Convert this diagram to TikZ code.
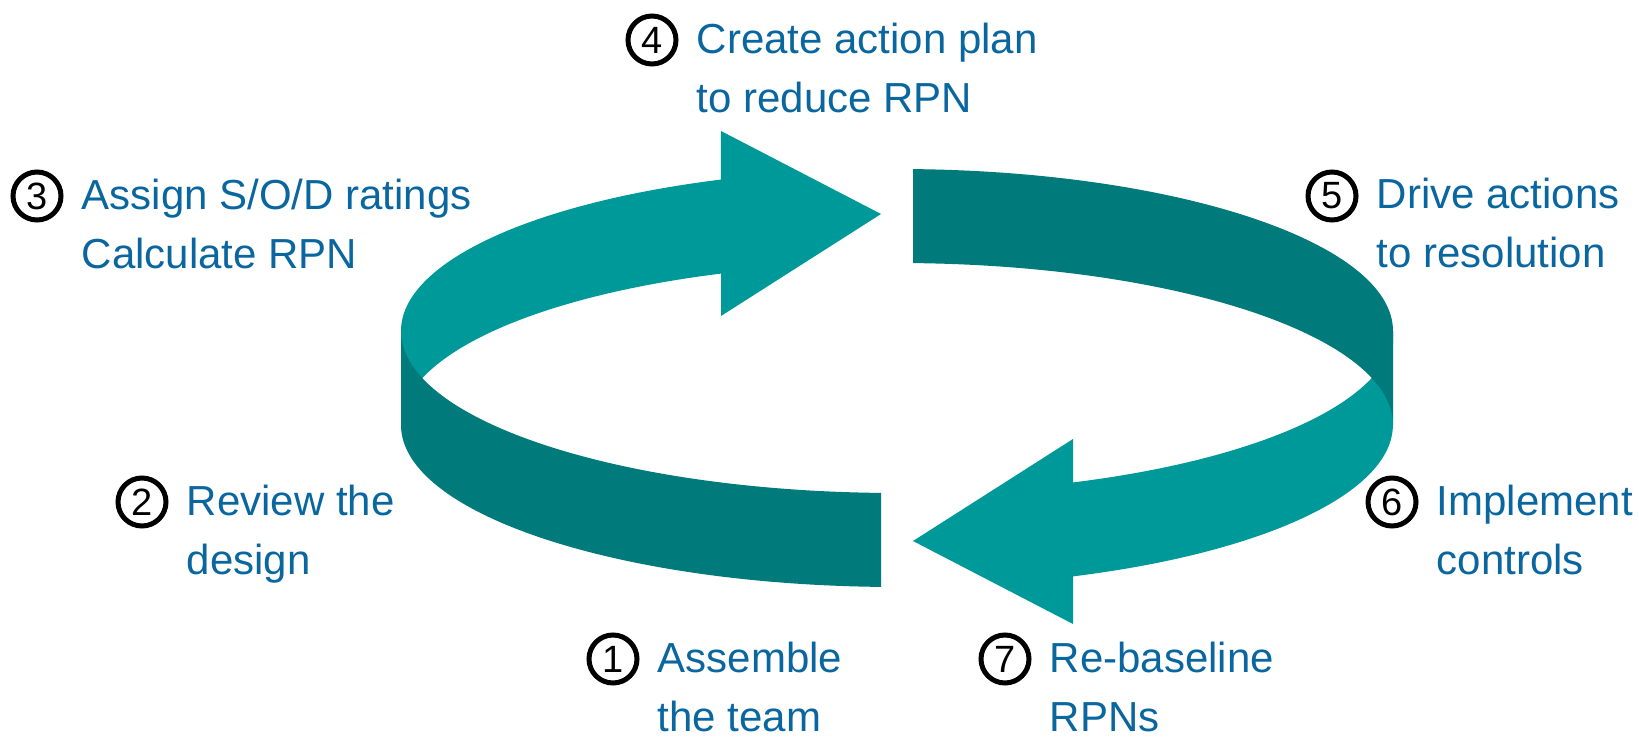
\documentclass[tikz,border=0pt]{standalone}
\usepackage{fontspec}
\setmainfont{Liberation Sans}
\usetikzlibrary{positioning}

\definecolor{ringlight}{RGB}{0,153,153}
\definecolor{ringdark}{RGB}{0,122,122}
\definecolor{steptext}{RGB}{10,102,158}

\begin{document}
\begin{tikzpicture}[x=0.5pt,y=0.5pt,
   node distance=9pt,
   ring/.style={x radius=496,y radius=162},
   num/.style={draw,circle,line width=2.5pt,minimum size=24pt,inner sep=0pt,
               font=\fontsize{19}{19}\selectfont},
   % base of a two-line node is its last line, so drop it by one line
   lbl/.style={align=left,inner sep=0pt,text=steptext,yshift=-29.5pt,
               font=\fontsize{21}{29.5}\selectfont}]
  \useasboundingbox (0,0) rectangle (1639,741);
  % ribbon: back-left arrow, front-left band, front-right arrow, back-right band
  \fill[ringlight] (401,410) arc[ring,start angle=180,end angle=110.8]
     -- (721,610) -- (881,527) -- (721,425) -- (721,467.4)
     arc[ring,start angle=110.8,end angle=180] -- cycle;
  \fill[ringdark] (401,410) arc[ring,start angle=180,end angle=268.15]
     -- (881,154.1) arc[ring,start angle=268.15,end angle=180] -- cycle;
  \fill[ringlight] (1393,410) arc[ring,start angle=360,end angle=290.8]
     -- (1073,302) -- (913,200) -- (1073,117) -- (1073,164.6)
     arc[ring,start angle=290.8,end angle=360] -- cycle;
  \fill[ringdark] (913,571.9) arc[ring,start angle=88.15,end angle=0]
     -- (1393,316) arc[ring,start angle=0,end angle=88.15] -- cycle;

  % steps
  \node[num] (n1) at (613,82) {1};
  \node[lbl,base right=of n1] (t1) {Assemble\\the team};
  \node[num] (n2) at (142,239) {2};
  \node[lbl,base right=of n2] (t2) {Review the\\design};
  \node[num] (n3) at (37,545) {3};
  \node[lbl,base right=of n3] (t3) {Assign S/O/D ratings\\Calculate RPN};
  \node[num] (n4) at (652,701) {4};
  \node[lbl,base right=of n4] (t4) {Create action plan\\to reduce RPN};
  \node[num] (n5) at (1332,545) {5};
  \node[lbl,base right=of n5] (t5) {Drive actions\\to resolution};
  \node[num] (n6) at (1392,239) {6};
  \node[lbl,base right=of n6] (t6) {Implement\\controls};
  \node[num] (n7) at (1005,82) {7};
  \node[lbl,base right=of n7] (t7) {Re-baseline\\RPNs};
\end{tikzpicture}
\end{document}
